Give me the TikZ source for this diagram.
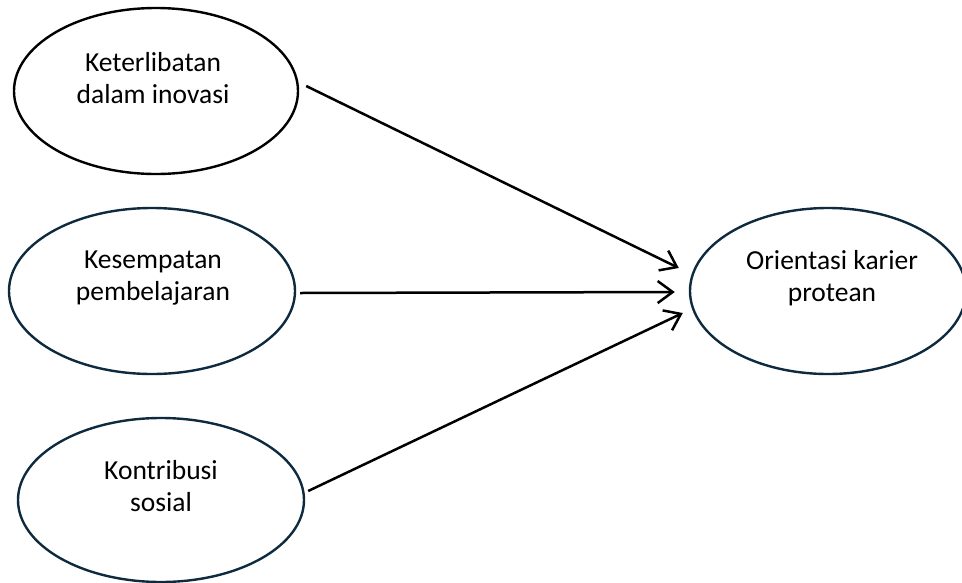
\documentclass[tikz,border=0pt]{standalone}
\usepackage{fontspec}
\setmainfont{Carlito}
\usetikzlibrary{arrows.meta,shapes.geometric}
\definecolor{navy}{HTML}{0E2A3F}
\tikzset{
  oval/.style={ellipse, draw=navy, line width=2.4pt, inner sep=0pt, fill=none},
  lbl/.style={align=center, font=\fontsize{27.5}{31.5}\selectfont, inner sep=0pt},
  link/.style={line width=2.5pt, -{Straight Barb[length=15pt,width=22pt,line width=2.5pt]}}
}
\begin{document}
\begin{tikzpicture}[x=1pt,y=-1pt]
\useasboundingbox (0,0) rectangle (962,582);
\begin{scope}
\clip (0,0) rectangle (962,582);
\node[oval, draw=black, minimum width=284pt, minimum height=166pt] (e1) at (156,91) {};
\node[oval, minimum width=286pt, minimum height=166pt] (e2) at (152,291) {};
\node[oval, minimum width=286pt, minimum height=164pt] (e3) at (161,500) {};
\node[oval, minimum width=276pt, minimum height=166pt] (e4) at (828,291) {};
\end{scope}
\node[lbl] (t1) at (153,78) {Keterlibatan\\dalam inovasi};
\node[lbl] (t2) at (153,278) {Kesempatan\\pembelajaran};
\node[lbl] (t3) at (161,486) {Kontribusi\\sosial};
\node[lbl] (t4) at (832,278) {Orientasi karier\\protean};
\draw[link] ([shift={(7,-5)}]e1.east) -- ([shift={(-10,-23)}]e4.west);
\draw[link] ([shift={(4,2)}]e2.east) -- ([shift={(-14,1)}]e4.west);
\draw[link] ([shift={(3,-9)}]e3.east) -- ([shift={(-6,22)}]e4.west);
\end{tikzpicture}
\end{document}
